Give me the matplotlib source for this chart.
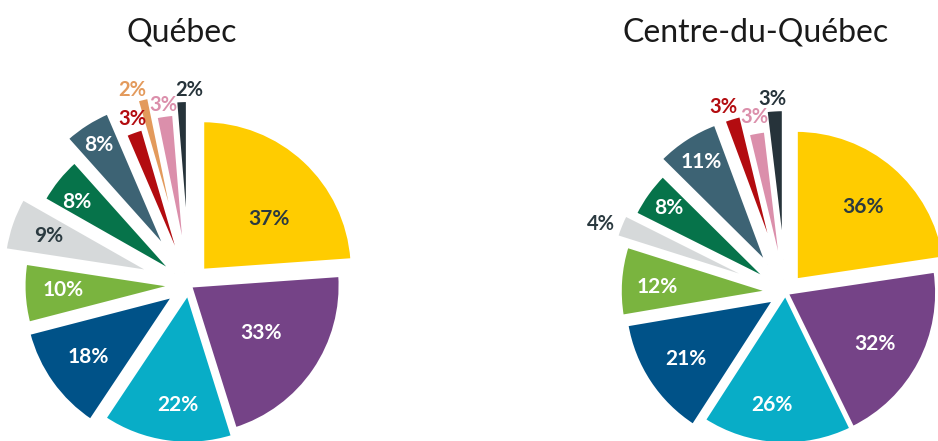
import matplotlib
matplotlib.use("Agg")
import matplotlib.pyplot as plt
import numpy as np

# ---------------- data ----------------
regions = ["Québec", "Centre-du-Québec"]
series_ids = ["s1", "s2", "s3", "s4", "s5", "s6", "s7", "s8", "s9", "s10", "s11", "s12"]
quebec_values = [37, 33, 22, 18, 10, 9, 8, 8, 3, 2, 3, 2]
centre_values = [36, 32, 26, 21, 12, 4, 8, 11, 3, 0, 3, 3]

# ---------------- style ----------------
colors = ["#FFCC00", "#754387", "#08ADC7", "#005288", "#7AB43F", "#D6D9DA",
          "#06734A", "#3D6374", "#B30C10", "#E39A5C", "#DB8FAB", "#26333A"]
dark_text = "#2B3A40"
light_slices = {0, 5}          # slices whose label is dark

explode_q = [19.8, 1.6, 8.5, 18.6, 15.2, 37.9, 18.6, 41, 13.2, 42.2, 21.6, 34.7]
explode_c = [16.2, 1.5, 1.6, 13.1, 15.5, 28.1, 19.9, 33.2, 32.6, 0, 12.9, 33]
lab_r_q = [84, 85, 112, 105, 111, 111, 121, 126, 162, 161.5, 160, 160]
lab_sh_q = [-9, 0.7, 3, 0, -0.9, 0, 2.5, 0.4, -0.8, 3, -0.2, -2.75]
lab_r_c = [99, 102, 112, 107, 113, 169, 124, 122, 163, 0, 165.5, 161]
lab_sh_c = [-1.75, -2.3, -3.6, 0.6, 1.7, 2.1, -0.35, 0, 1.8, 0, -0.3, 0.6]

W, H = 938, 441
R = 150
centers = [(189, H - 285), (785.5, H - 292.4)]
title_x = [181.5, 755.5]

fig = plt.figure(figsize=(W / 100, H / 100), dpi=100)
ax = fig.add_axes([0, 0, 1, 1])


def draw(values, center, explode, lab_r, lab_sh):
    idx = [i for i, v in enumerate(values) if v > 0]
    vals = [values[i] for i in idx]
    wedges, _ = ax.pie(vals, colors=[colors[i] for i in idx], startangle=90,
                       counterclock=False, radius=R, center=center,
                       explode=[explode[i] for i in idx], frame=True,
                       wedgeprops=dict(edgecolor="white", linewidth=2.5))
    for w, i in zip(wedges, idx):
        th = np.deg2rad((w.theta1 + w.theta2) / 2 + lab_sh[i])
        cx, cy = w.center
        x = cx + lab_r[i] * np.cos(th)
        y = cy + lab_r[i] * np.sin(th)
        outside = lab_r[i] > R
        if i in light_slices:
            col = dark_text
        else:
            col = colors[i] if outside else "white"
        ax.text(x, y, f"{values[i]}%", ha="center", va="center",
                fontsize=15 if not outside else 14.5, fontweight="bold",
                color=col, family=["Lato", "DejaVu Sans"])


draw(quebec_values, centers[0], explode_q, lab_r_q, lab_sh_q)
draw(centre_values, centers[1], explode_c, lab_r_c, lab_sh_c)

for tx, name in zip(title_x, regions):
    ax.text(tx, H - 41, name, ha="center", va="baseline", fontsize=23,
            fontweight="normal", color="#1a1a1a", family=["Lato", "DejaVu Sans"])

ax.set_xlim(0, W)
ax.set_ylim(0, H)
ax.set_aspect("auto")
ax.axis("off")

fig.savefig("out.png", dpi=100)
